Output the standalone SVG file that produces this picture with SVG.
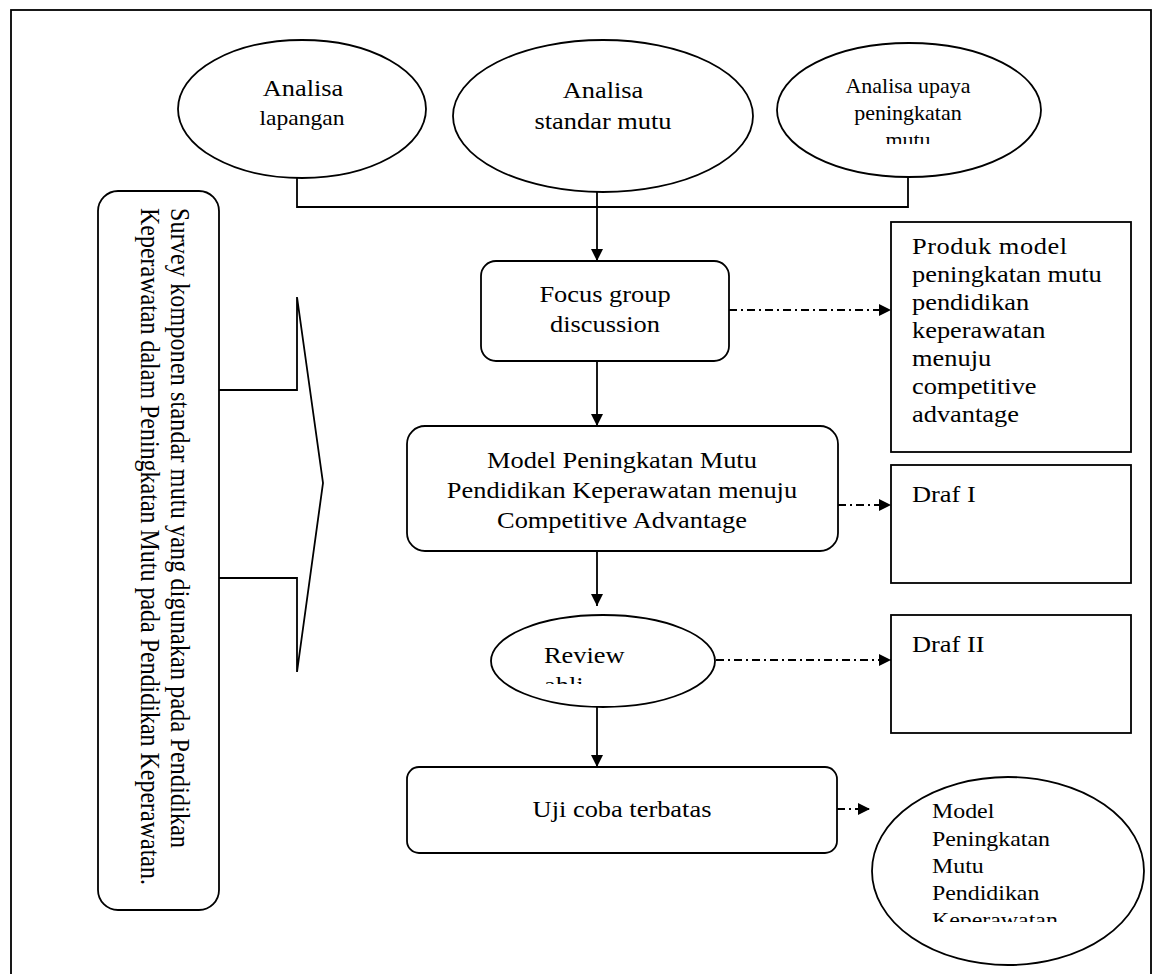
<svg xmlns="http://www.w3.org/2000/svg" width="1155" height="974" viewBox="0 0 1155 974">
<style>
.s{fill:#fff;stroke:#000;stroke-width:1.8}
.t{font-family:"Liberation Serif","Times New Roman",serif;font-size:24px;fill:#000}
.c{text-anchor:middle}
.ln{fill:none;stroke:#000;stroke-width:1.8}
.dd{fill:none;stroke:#000;stroke-width:1.8;stroke-dasharray:8 4 2 4}
</style>
<defs>
<marker id="ah" viewBox="0 0 12 12" refX="12" refY="6" markerWidth="12" markerHeight="12" markerUnits="userSpaceOnUse" orient="auto"><path d="M0,0 L12,6 L0,12 z" fill="#000"/></marker>
<clipPath id="cE3"><rect x="770" y="40" width="280" height="104"/></clipPath>
<clipPath id="cRev"><rect x="490" y="615" width="230" height="69"/></clipPath>
<clipPath id="cFin"><rect x="870" y="777" width="280" height="145"/></clipPath>
</defs>
<rect x="11" y="10" width="1140" height="1000" fill="none" stroke="#000" stroke-width="1.8"/>

<g id="connectors">
<polyline class="ln" points="297,178 297,207 908,207 908,177"/>
<line class="ln" x1="597" y1="192" x2="597" y2="261" marker-end="url(#ah)"/>
<line class="ln" x1="597" y1="361" x2="597" y2="426" marker-end="url(#ah)"/>
<line class="ln" x1="597" y1="551" x2="597" y2="606" marker-end="url(#ah)"/>
<line class="ln" x1="597" y1="707" x2="597" y2="767" marker-end="url(#ah)"/>
<line class="dd" x1="729" y1="310" x2="891" y2="310" marker-end="url(#ah)"/>
<line class="dd" x1="838" y1="505" x2="891" y2="505" marker-end="url(#ah)"/>
<line class="dd" x1="716" y1="660" x2="891" y2="660" marker-end="url(#ah)"/>
<line class="dd" x1="837" y1="809" x2="870" y2="809" marker-end="url(#ah)"/>
<path class="ln" d="M219,390 H297 V297 L323,483 L297,672 V578 H219"/>
</g>

<g id="e1">
<ellipse class="s" cx="302" cy="109" rx="124" ry="69"/>
<text class="t c" transform="translate(303,96) scale(1.1,1)">Analisa</text>
<text class="t c" style="font-size:21.4px" transform="translate(302,125) scale(1.1,1)">lapangan</text>
</g>
<g id="e2">
<ellipse class="s" cx="603" cy="116" rx="150" ry="76"/>
<text class="t c" transform="translate(603,98) scale(1.1,1)">Analisa</text>
<text class="t c" transform="translate(603,129) scale(1.1,1)">standar mutu</text>
</g>
<g id="e3">
<ellipse class="s" cx="909" cy="110" rx="132" ry="67"/>
<g clip-path="url(#cE3)">
<text class="t c" style="font-size:20px" transform="translate(908,93) scale(1.1,1)">Analisa upaya</text>
<text class="t c" style="font-size:20px" transform="translate(908,120) scale(1.1,1)">peningkatan</text>
<text class="t c" style="font-size:20px" transform="translate(908,147) scale(1.1,1)">mutu</text>
</g>
</g>

<g id="survey">
<rect class="s" x="98" y="191" width="121" height="719" rx="20"/>
<text class="t" transform="translate(171,208) scale(1.1,1) rotate(90)" textLength="640" lengthAdjust="spacing">Survey komponen standar mutu yang digunakan pada Pendidikan</text>
<text class="t" transform="translate(141,208) scale(1.1,1) rotate(90)" textLength="677" lengthAdjust="spacing">Keperawatan dalam Peningkatan Mutu pada Pendidikan Keperawatan.</text>
</g>

<g id="focus">
<rect class="s" x="481" y="261" width="248" height="100" rx="15"/>
<text class="t c" transform="translate(605,302) scale(1.1,1)">Focus group</text>
<text class="t c" transform="translate(605,332) scale(1.1,1)">discussion</text>
</g>

<g id="model">
<rect class="s" x="407" y="426" width="431" height="125" rx="18"/>
<text class="t c" transform="translate(622,468) scale(1.1,1)">Model Peningkatan Mutu</text>
<text class="t c" transform="translate(622,498) scale(1.1,1)">Pendidikan Keperawatan menuju</text>
<text class="t c" transform="translate(622,528) scale(1.1,1)">Competitive Advantage</text>
</g>

<g id="review">
<ellipse class="s" cx="603" cy="661" rx="112" ry="46"/>
<g clip-path="url(#cRev)">
<text class="t" transform="translate(544,663) scale(1.1,1)">Review</text>
<text class="t" transform="translate(544,693) scale(1.1,1)">ahli</text>
</g>
</g>

<g id="uji">
<rect class="s" x="407" y="767" width="430" height="86" rx="12"/>
<text class="t c" transform="translate(622,817) scale(1.1,1)">Uji coba terbatas</text>
</g>

<g id="produk">
<rect class="s" x="891" y="222" width="240" height="230"/>
<text class="t" transform="translate(912,254) scale(1.1,1)" textLength="141" lengthAdjust="spacing">Produk model</text>
<text class="t" transform="translate(912,282) scale(1.1,1)">peningkatan mutu</text>
<text class="t" transform="translate(912,310) scale(1.1,1)">pendidikan</text>
<text class="t" transform="translate(912,338) scale(1.1,1)">keperawatan</text>
<text class="t" transform="translate(912,366) scale(1.1,1)">menuju</text>
<text class="t" transform="translate(912,394) scale(1.1,1)">competitive</text>
<text class="t" transform="translate(912,422) scale(1.1,1)">advantage</text>
</g>

<g id="draf1">
<rect class="s" x="891" y="465" width="240" height="118"/>
<text class="t" transform="translate(912,502) scale(1.1,1)">Draf I</text>
</g>

<g id="draf2">
<rect class="s" x="891" y="615" width="240" height="118"/>
<text class="t" transform="translate(912,652) scale(1.1,1)">Draf II</text>
</g>

<g id="final">
<ellipse class="s" cx="1008" cy="871" rx="136" ry="94"/>
<g clip-path="url(#cFin)">
<text class="t" style="font-size:21.7px" transform="translate(932,818) scale(1.1,1)">Model</text>
<text class="t" style="font-size:21.7px" transform="translate(932,846) scale(1.1,1)">Peningkatan</text>
<text class="t" style="font-size:21.7px" transform="translate(932,873) scale(1.1,1)">Mutu</text>
<text class="t" style="font-size:21.7px" transform="translate(932,900) scale(1.1,1)">Pendidikan</text>
<text class="t" style="font-size:21.7px" transform="translate(932,927) scale(1.1,1)">Keperawatan</text>
</g>
</g>
</svg>
